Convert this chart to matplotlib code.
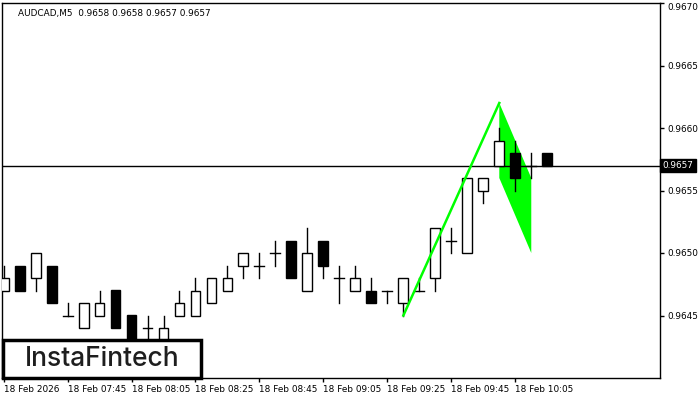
import matplotlib
matplotlib.use("Agg")
import matplotlib.pyplot as plt
import matplotlib.transforms as mtransforms
from matplotlib.patches import Rectangle, Polygon

# candles, 5 min bars from 07:25
opens  = [.9647, .9649, .9648, .9649, .9645, .9644, .9645, .9647, .9645, .9644,
          .9643, .9645, .9645, .9646, .9647, .9649, .9649, .9650, .9651, .9647,
          .9651, .9648, .9647, .9647, .9647, .9646, .9647, .9648, .9651, .9650,
          .9655, .9657, .9658, .9657, .9658]
highs  = [.9649, .9649, .9650, .9649, .9646, .9646, .9647, .9647, .9645, .9645,
          .9645, .9647, .9648, .9648, .9649, .9650, .9650, .9651, .9651, .9652,
          .9651, .9649, .9649, .9648, .9647, .9648, .9648, .9652, .9652, .9656,
          .9656, .9660, .9659, .9658, .9658]
lows   = [.9647, .9647, .9647, .9646, .9645, .9644, .9645, .9644, .9643, .9643,
          .9643, .9645, .9645, .9646, .9647, .9648, .9648, .9649, .9648, .9647,
          .9648, .9646, .9647, .9646, .9646, .9645, .9647, .9647, .9650, .9650,
          .9654, .9657, .9655, .9656, .9657]
closes = [.9648, .9647, .9650, .9646, .9645, .9646, .9646, .9644, .9643, .9644,
          .9644, .9646, .9647, .9648, .9648, .9650, .9649, .9650, .9648, .9650,
          .9649, .9648, .9648, .9646, .9647, .9648, .9647, .9652, .9651, .9656,
          .9656, .9659, .9656, .9657, .9657]

tick_idx = [0, 4, 8, 12, 16, 20, 24, 28, 32]
tick_labels = ["18 Feb 2026", "18 Feb 07:45", "18 Feb 08:05", "18 Feb 08:25",
               "18 Feb 08:45", "18 Feb 09:05", "18 Feb 09:25", "18 Feb 09:45",
               "18 Feb 10:05"]
yticks = [0.9645, 0.9650, 0.9655, 0.9660, 0.9665, 0.9670]

# flag pattern
pole_x = [25, 31]
pole_y = [0.9645, 0.9662]
flag_x = [31, 33, 33, 31]
flag_y = [0.9662, 0.9656, 0.9650, 0.9656]
last_price = 0.9657

fs = 6.4
fig = plt.figure(figsize=(7, 4), dpi=100)
ax = fig.add_axes([2/700, 22/400, 658/700, 375/400])
ax.set_xlim(-0.1, 41.05)
ax.set_ylim(0.9640, 0.9670)

w = 0.62
for i, (o, h, l, c) in enumerate(zip(opens, highs, lows, closes)):
    lo, hi = min(o, c), max(o, c)
    if h > hi:
        ax.plot([i, i], [hi, h], color="black", lw=1, zorder=3)
    if l < lo:
        ax.plot([i, i], [l, lo], color="black", lw=1, zorder=3)
    if hi - lo < 1e-7:
        ax.plot([i - w/2, i + w/2], [o, o], color="black", lw=1, zorder=3)
    else:
        fc = "white" if c > o else "black"
        ax.add_patch(Rectangle((i - w/2, lo), w, hi - lo, facecolor=fc,
                               edgecolor="black", lw=1, zorder=4))

ax.plot(pole_x, pole_y, color="#00ff00", lw=1.8, zorder=5)
ax.add_patch(Polygon(list(zip(flag_x, flag_y)), closed=True, facecolor="#00ff00",
                     edgecolor="none", zorder=2))

ax.axhline(last_price, color="black", lw=1, zorder=3)

ax.yaxis.tick_right()
ax.set_yticks(yticks)
ylabs = ax.set_yticklabels([f"{v:.4f}" for v in yticks], fontsize=fs)
ylabs[-1].set_va("top")
ax.set_xticks(tick_idx)
ax.set_xticklabels(tick_labels, fontsize=fs, ha="left")
ax.tick_params(axis="both", length=3, width=1, pad=2)
for s in ax.spines.values():
    s.set_linewidth(1)

trans = mtransforms.blended_transform_factory(ax.transAxes, ax.transData)
ax.text(1.004, last_price, f"{last_price:.4f}", transform=trans, color="white",
        fontsize=fs, va="center", ha="left",
        bbox=dict(boxstyle="square,pad=0.25", facecolor="black", edgecolor="black"))

ax.text(0.025, 0.985, "AUDCAD,M5  0.9658 0.9658 0.9657 0.9657", transform=ax.transAxes,
        fontsize=fs, va="top", ha="left")

# logo box
fig.patches.append(Rectangle((3/700, 22/400), 198/700, 38/400, transform=fig.transFigure,
                             facecolor="white", edgecolor="black", lw=2.5, zorder=10))
fig.text(102/700, 41/400, "InstaFintech", fontsize=19, color="#1e1e1e",
         family="Inter", weight="medium", ha="center", va="center", zorder=11)

fig.savefig("out.png", dpi=100)
